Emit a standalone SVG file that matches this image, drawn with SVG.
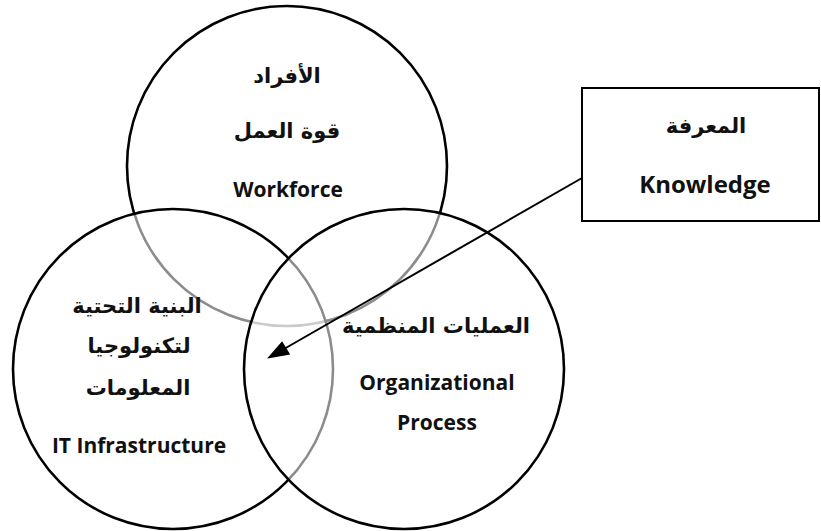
<svg xmlns="http://www.w3.org/2000/svg" width="821" height="531" viewBox="0 0 821 531">
<defs>
<style>
.c{stroke:#000;stroke-width:2.6;fill:#fff;fill-opacity:0.55}
.ct{stroke:#000;stroke-width:2.6;fill:none}
.lat{font-family:"Open Sans","Liberation Sans",sans-serif;font-weight:bold;font-size:21px;fill:#111;text-anchor:middle}
.ar{font-family:"DejaVu Sans",sans-serif;font-weight:bold;font-size:21px;fill:#111;text-anchor:middle}
.head{fill:#000;stroke:#000;stroke-width:1.5;stroke-linejoin:miter}
</style>
</defs>
<rect width="821" height="531" fill="#fff"/>
<g id="workforce">
<circle class="ct" cx="287" cy="166" r="160"/>
</g>
<g id="it-infrastructure">
<circle class="c" cx="173" cy="369" r="160"/>
</g>
<g id="organizational-process">
<circle class="c" cx="404" cy="369" r="160"/>
</g>
<g id="workforce-text">
<text class="ar" x="287" y="83">الأفراد</text>
<text class="ar" x="287" y="138">قوة العمل</text>
<text class="lat" x="288" y="197">Workforce</text>
</g>
<g id="it-text">
<text class="ar" x="137" y="313">البنية التحتية</text>
<text class="ar" x="139" y="353">لتكنولوجيا</text>
<text class="ar" x="138" y="395">المعلومات</text>
<text class="lat" x="139" y="453">IT Infrastructure</text>
</g>
<g id="process-text">
<text class="ar" x="436" y="333">العمليات المنظمية</text>
<text class="lat" x="437" y="390">Organizational</text>
<text class="lat" x="437" y="430">Process</text>
</g>
<g id="knowledge">
<rect x="582" y="88" width="237" height="133" fill="#fff" stroke="#000" stroke-width="2"/>
<text class="ar" x="706" y="133">المعرفة</text>
<text class="lat" x="705" y="193" style="font-size:24px">Knowledge</text>
</g>
<g id="connectors">
<line x1="582" y1="178" x2="284" y2="349" stroke="#000" stroke-width="2"/>
<path class="head" d="M269,357.5 L289,354 L282,342.5 Z"/>
</g>
</svg>
